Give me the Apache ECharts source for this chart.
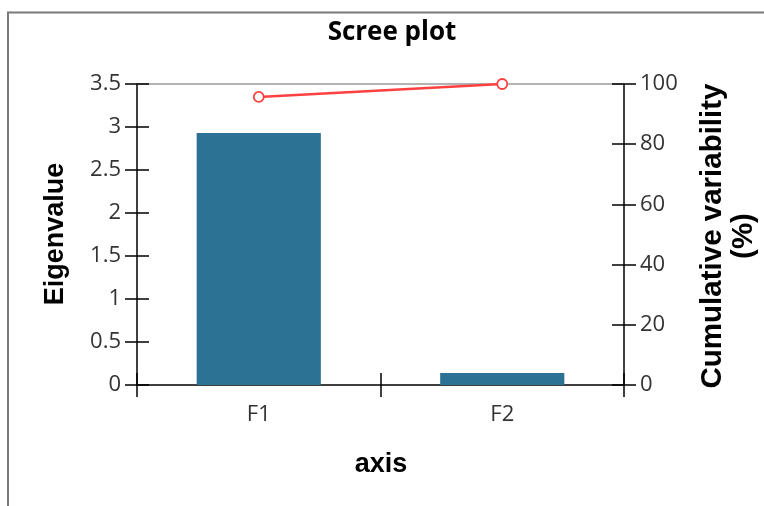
<!DOCTYPE html>
<html>
<head>
<meta charset="utf-8">
<script src="https://cdn.jsdelivr.net/npm/echarts@6/dist/echarts.min.js"></script>
<style>
html,body{margin:0;padding:0;background:#fff;}
#chart{width:764px;height:506px;}
</style>
</head>
<body>
<div id="chart"></div>
<script>
const categories = ['F1', 'F2'];
const eigenvalues = [2.93, 0.14];
const cumulativeVariability = [95.7, 100];
const leftTicks = { min: 0, max: 3.5, interval: 0.5 };
const rightTicks = { min: 0, max: 100, interval: 20 };

const labelFont = { fontFamily: 'Open Sans', fontSize: 22, color: '#333' };
const axisLineStyle = { color: '#000', width: 1.5 };

const chart = echarts.init(document.getElementById('chart'), null, { renderer: 'canvas' });

const option = {
  animation: false,
  backgroundColor: '#fff',
  grid: { left: 137, right: 140, top: 84, bottom: 121, containLabel: false },
  xAxis: [
    {
      type: 'category', data: categories, position: 'bottom', boundaryGap: true,
      axisLine: { show: true, onZero: false, lineStyle: axisLineStyle },
      axisTick: { show: true, inside: false, length: 12, lineStyle: axisLineStyle },
      axisLabel: Object.assign({ margin: 19 }, labelFont),
      splitLine: { show: false }
    },
    {
      type: 'category', data: categories, position: 'bottom', boundaryGap: true,
      axisLine: { show: false, onZero: false },
      axisTick: { show: true, inside: true, length: 12, lineStyle: axisLineStyle },
      axisLabel: { show: false },
      splitLine: { show: false }
    },
    {
      type: 'category', data: categories, position: 'top', boundaryGap: true,
      axisLine: { show: true, onZero: false, lineStyle: { color: '#9a9a9a', width: 1.5 } },
      axisTick: { show: false },
      axisLabel: { show: false },
      splitLine: { show: false }
    }
  ],
  yAxis: [
    {
      type: 'value', position: 'left', min: leftTicks.min, max: leftTicks.max, interval: leftTicks.interval,
      axisLine: { show: true, onZero: false, lineStyle: axisLineStyle },
      axisTick: { show: true, inside: false, length: 12, lineStyle: axisLineStyle },
      axisLabel: Object.assign({ margin: 16 }, labelFont),
      splitLine: { show: false }
    },
    {
      type: 'value', position: 'right', min: rightTicks.min, max: rightTicks.max, interval: rightTicks.interval,
      axisLine: { show: true, onZero: false, lineStyle: axisLineStyle },
      axisTick: { show: true, inside: false, length: 12, lineStyle: axisLineStyle },
      axisLabel: Object.assign({ margin: 16 }, labelFont),
      splitLine: { show: false }
    },
    {
      type: 'value', position: 'left', min: leftTicks.min, max: leftTicks.max, interval: leftTicks.interval,
      axisLine: { show: false, onZero: false },
      axisTick: { show: true, inside: true, length: 12, lineStyle: axisLineStyle },
      axisLabel: { show: false },
      splitLine: { show: false }
    },
    {
      type: 'value', position: 'right', min: rightTicks.min, max: rightTicks.max, interval: rightTicks.interval,
      axisLine: { show: false, onZero: false },
      axisTick: { show: true, inside: true, length: 12, lineStyle: axisLineStyle },
      axisLabel: { show: false },
      splitLine: { show: false }
    }
  ],
  series: [
    {
      type: 'bar', name: 'Eigenvalue', xAxisIndex: 0, yAxisIndex: 0,
      data: eigenvalues, barWidth: '51%',
      itemStyle: { color: '#2c7294' }, z: 2
    },
    {
      type: 'line', name: 'Cumulative variability (%)', xAxisIndex: 0, yAxisIndex: 1,
      data: cumulativeVariability,
      symbol: 'circle', symbolSize: 10,
      lineStyle: { color: '#ff4040', width: 2.5 },
      itemStyle: { color: '#ffffff', borderColor: '#ff4040', borderWidth: 1.8 },
      z: 5
    }
  ],
  graphic: [
    {
      type: 'polyline', silent: true,
      shape: { points: [[8, 506], [8, 12.5], [764, 12.5]] },
      style: { stroke: '#7a7a7a', lineWidth: 2, fill: null }
    },
    {
      type: 'text', x: 392, y: 33,
      style: { text: 'Scree plot', font: 'bold 26px "Open Sans"', fill: '#000', align: 'center', verticalAlign: 'middle' }
    },
    {
      type: 'text', x: 56, y: 234, rotation: Math.PI / 2,
      style: { text: 'Eigenvalue', font: 'bold 27px "Liberation Sans"', fill: '#000', align: 'center', verticalAlign: 'middle' }
    },
    {
      type: 'text', x: 728, y: 236, rotation: Math.PI / 2,
      style: { text: 'Cumulative variability\n(%)', font: 'bold 29.5px "Liberation Sans"', lineHeight: 31, fill: '#000', align: 'center', verticalAlign: 'middle' }
    },
    {
      type: 'text', x: 381, y: 465,
      style: { text: 'axis', font: 'bold 27px "Liberation Sans"', fill: '#000', align: 'center', verticalAlign: 'middle' }
    }
  ]
};
chart.setOption(option);
</script>
</body>
</html>
